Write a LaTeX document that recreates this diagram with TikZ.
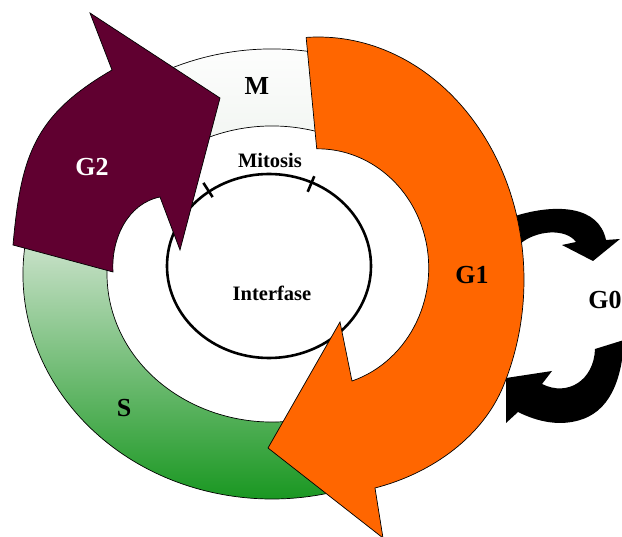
\documentclass[tikz,border=0pt]{standalone}
\usepackage{fontspec}
\setmainfont{Liberation Serif}
\usepackage{tikz}
\usepackage{xcolor}

\begin{document}
\begin{tikzpicture}[x=1pt,y=-1pt,
  phasetxt/.style={font=\fontsize{26}{30}\selectfont\bfseries},
  smalltxt/.style={font=\fontsize{20.5}{24}\selectfont\bfseries},
  rim/.style={draw=black,line width=0.7pt},
  tickmark/.style={line width=2.6pt}]
\definecolor{g2maroon}{HTML}{600030}
\definecolor{g1orange}{HTML}{FF6600}
\definecolor{slight}{HTML}{D2E5D2}
\definecolor{sdark}{HTML}{12941A}
\definecolor{mgray}{HTML}{E8EEE8}
\useasboundingbox (0,0) rectangle (622,537);
\clip (0,0) rectangle (622,537);
\coordinate (C) at (272,274);
\coordinate (I) at (269,266);
\coordinate (go) at (318,280);
% ring: M on top, S below
\shade[rim,top color=white,bottom color=mgray]
  ([shift={(C)}]191:249 and 225) arc[start angle=191,end angle=349,x radius=249,y radius=225]
  -- ([shift={(C)}]343:165 and 148) arc[start angle=343,end angle=197,x radius=165,y radius=148] -- cycle;
\shade[rim,top color=slight,bottom color=sdark]
  ([shift={(C)}]191:249 and 225) arc[start angle=191,end angle=-11,x radius=249,y radius=225]
  -- ([shift={(C)}]-17:165 and 148) arc[start angle=-17,end angle=197,x radius=165,y radius=148] -- cycle;
% interfase circle
\draw[line width=2.6pt] (I) ellipse[x radius=102,y radius=92];
\foreach \p/\q in {{203.4,182.9}/{212.6,197.1},{314.3,176.2}/{307.7,191.8}}
  {\draw[tickmark] (\p) -- (\q);}
% G0 arrows
\fill[black] (505,250) -- (505,222) -- (515,216) .. controls (557,203) and (599,206) .. (606,240)
  -- (620,239) -- (593,261) -- (562,245) -- (576,242) .. controls (566,228) and (536,230) .. (520,244) -- cycle;
\fill[black] (595,349) -- (624,340) .. controls (622.4,372.4) and (613.5,408) .. (583,419)
  .. controls (561,427) and (538,422) .. (518,412)
  -- (506,423) -- (506,378) -- (552,371) -- (542,384) .. controls (568,397) and (594,380) .. (595,349) -- cycle;
% G1
\draw[rim,fill=g1orange] ([shift={(go)}]266.7:206 and 243) arc[start angle=266.7,end angle=385.7,x radius=206,y radius=243]
  .. controls (483,436) and (433,473) .. (375,488) -- (383,538) -- (268,448) -- (340,322) -- (352,381)
  arc[start angle=72,end angle=-90.5,x radius=111,y radius=119] -- cycle;
% G2
\draw[rim,fill=g2maroon] (13,245) .. controls (21,155) and (34.6,115) .. (112,70)
  -- (90,13) -- (220,98) -- (180,250)
  -- (160,197) .. controls (127.6,203.5) and (111,239) .. (113,272) -- cycle;
% labels
\foreach \txt/\pos/\crlr in {M/{257,86}/black,G2/{92,167}/white,S/{124,408}/black,G1/{472,275}/black,G0/{605,300}/black}
  {\node[phasetxt,text=\crlr] (\txt) at (\pos) {\txt};}
\node[smalltxt] (mitosis) at (270,160) {Mitosis};
\node[smalltxt] (interfase) at (272,293) {Interfase};
\end{tikzpicture}
\end{document}
